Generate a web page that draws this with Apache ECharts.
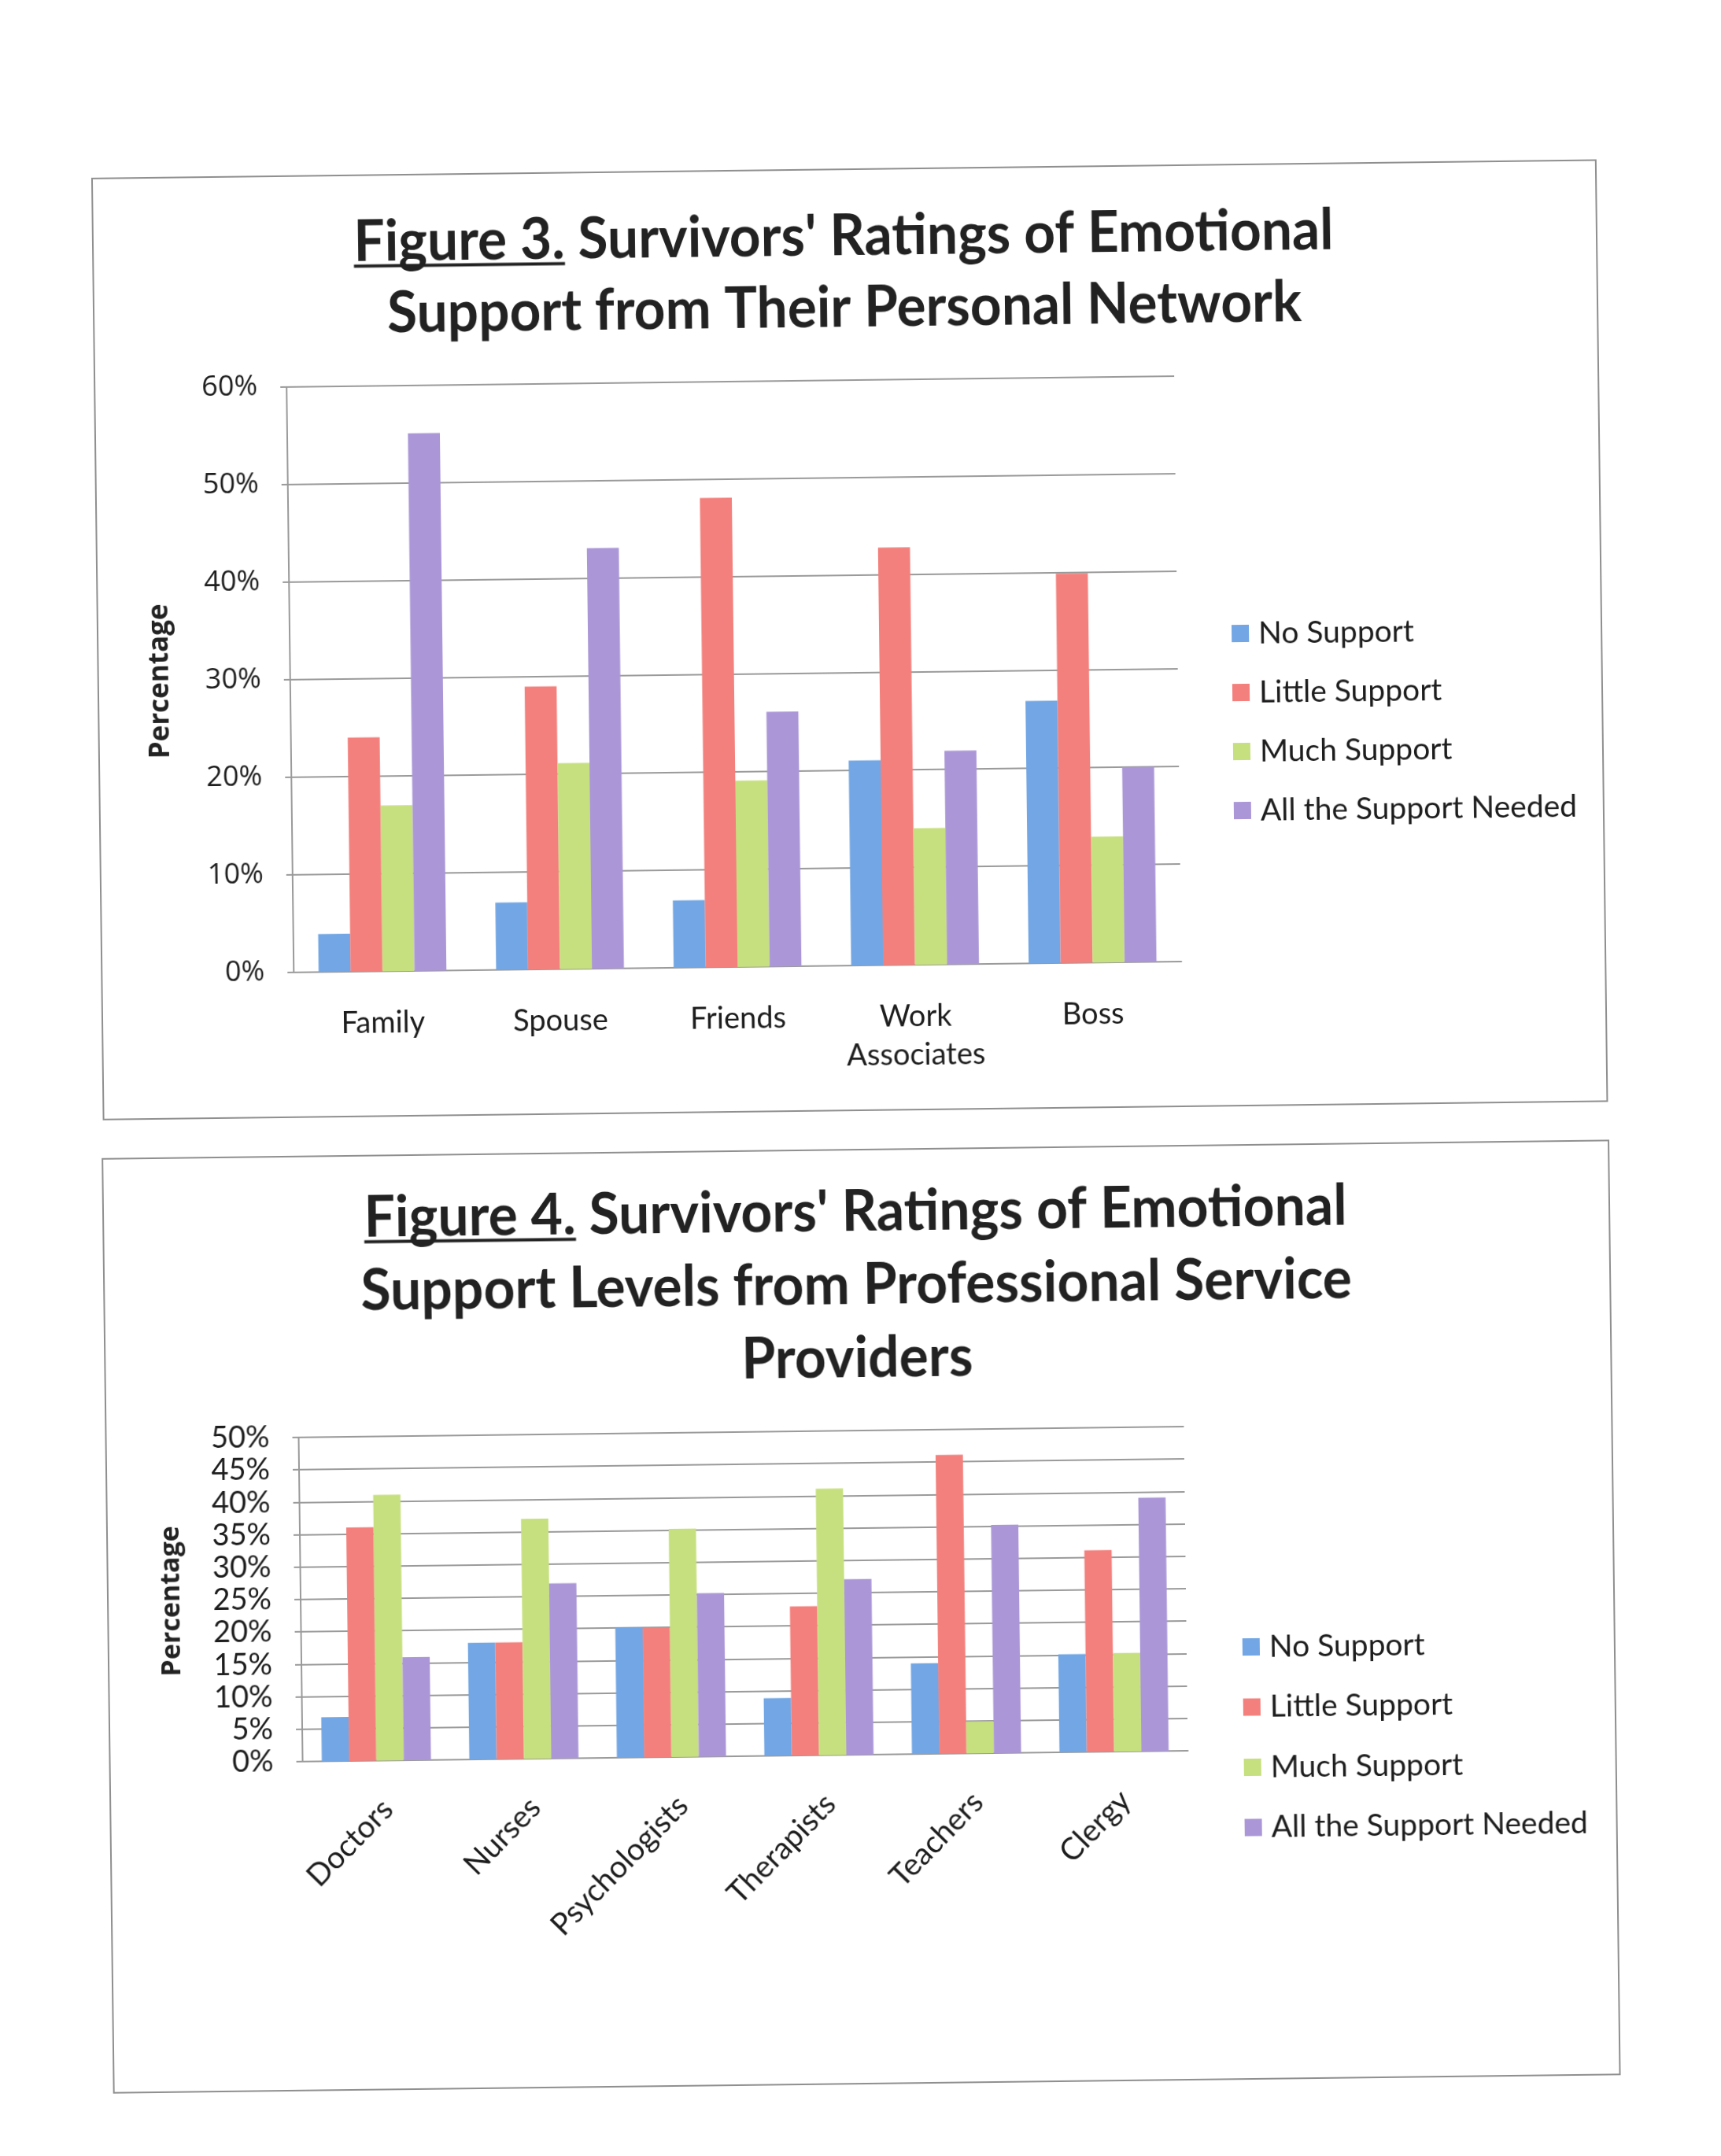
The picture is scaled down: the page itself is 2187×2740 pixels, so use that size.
<!DOCTYPE html>
<html>
<head>
<meta charset="utf-8">
<script src="https://cdn.jsdelivr.net/npm/echarts@6/dist/echarts.min.js"></script>
<style>
html,body{margin:0;padding:0;background:#fff;overflow:hidden;}
#c{width:2187px;height:2740px;transform:rotate(-0.7deg);transform-origin:50% 50%;}
</style>
</head>
<body>
<div id="c"></div>
<script>
// ---------- data ----------
const seriesNames = ['No Support', 'Little Support', 'Much Support', 'All the Support Needed'];

const fig3Categories = ['Family', 'Spouse', 'Friends', 'Work\nAssociates', 'Boss'];
const fig3NoSupport     = [3.9, 6.9, 6.9, 21.0, 26.9];
const fig3LittleSupport = [24.0, 29.0, 48.1, 42.8, 39.9];
const fig3MuchSupport   = [17.0, 21.1, 19.1, 14.0, 12.9];
const fig3AllNeeded     = [55.1, 43.1, 26.1, 21.9, 20.0];
const fig3AxisMax = 60, fig3AxisStep = 10;

const fig4Categories = ['Doctors', 'Nurses', 'Psychologists', 'Therapists', 'Teachers', 'Clergy'];
const fig4NoSupport     = [6.8, 18.0, 20.1, 8.9, 14.0, 15.1];
const fig4LittleSupport = [36.0, 18.0, 20.0, 23.0, 46.1, 31.1];
const fig4MuchSupport   = [41.0, 37.0, 35.2, 41.1, 4.9, 15.2];
const fig4AllNeeded     = [15.9, 27.0, 25.2, 27.1, 35.2, 39.1];
const fig4AxisMax = 50, fig4AxisStep = 5;

const fig3TitleLines = ["Figure 3. Survivors' Ratings of Emotional", "Support from Their Personal Network"];
const fig4TitleLines = ["Figure 4. Survivors' Ratings of Emotional", "Support Levels from Professional Service", "Providers"];
const fig3Prefix = 'Figure 3.';
const fig4Prefix = 'Figure 4.';
const yAxisName = 'Percentage';

// ---------- style ----------
const colors = ['#72A6E4', '#F3807C', '#C7E07F', '#AB97D7'];
const textColor = '#1d1d1d';
const gridColor = '#9a9a9a';
const titleFamily = 'Lato';
const titleSize = 73;

const ctx = document.createElement('canvas').getContext('2d');
function measure(text, size, weight, family) {
  ctx.font = weight + ' ' + size + 'px ' + family;
  return ctx.measureText(text).width;
}

function titleGraphics(lines, prefix, cx, top, lineH, targetW) {
  const w1 = measure(lines[0], titleSize, 'bold', titleFamily);
  const sx = targetW / w1;
  const els = [{
    type: 'text', x: cx, y: top, scaleX: sx,
    style: {
      text: lines.join('\n'), fontFamily: titleFamily, fontWeight: 'bold', fontSize: titleSize,
      lineHeight: lineH, align: 'center', verticalAlign: 'top', fill: '#222'
    }
  }];
  const wp = measure(prefix, titleSize, 'bold', titleFamily) * sx;
  const x0 = cx - targetW / 2;
  const baseY = top + lineH / 2 + 0.3 * titleSize + 8;
  els.push({
    type: 'line', shape: { x1: x0, y1: baseY, x2: x0 + wp, y2: baseY },
    style: { stroke: '#222', lineWidth: 4 }
  });
  return els;
}

const chart = echarts.init(document.getElementById('c'), null, { renderer: 'canvas' });

function barSeries(idx, arrays, barCatGap) {
  return arrays.map((arr, i) => ({
    name: seriesNames[i], type: 'bar', xAxisIndex: idx, yAxisIndex: idx,
    data: arr, barGap: '0%', barCategoryGap: barCatGap,
    itemStyle: { color: colors[i] }
  }));
}

function yAxis(idx, max, step, labelFont, labelSize, nameSize) {
  return {
    gridIndex: idx, type: 'value', min: 0, max: max, interval: step,
    axisLabel: { formatter: '{value}%', margin: 37, fontFamily: labelFont, fontSize: labelSize, color: textColor },
    axisLine: { show: true, lineStyle: { color: gridColor, width: 2 } },
    axisTick: { show: true, length: 8, lineStyle: { color: gridColor, width: 2 } },
    splitLine: { show: true, lineStyle: { color: gridColor, width: 2 } },
    name: yAxisName, nameLocation: 'middle', nameGap: 147,
    nameTextStyle: { fontFamily: 'Open Sans', fontWeight: 'bold', fontSize: nameSize, color: '#222' }
  };
}

const legendBase = {
  orient: 'vertical', padding: 0, itemWidth: 22, itemHeight: 22, icon: 'rect',
  textStyle: { fontFamily: 'Lato', fontSize: 39, lineHeight: 40, color: textColor, padding: [0, 0, 0, 7] },
  data: seriesNames
};

const option = {
  animation: false,
  backgroundColor: '#fff',
  graphic: [
    { type: 'rect', shape: { x: 131, y: 215, width: 1911, height: 1196 }, style: { fill: 'none', stroke: '#8f8f8f', lineWidth: 2 } },
    { type: 'rect', shape: { x: 129, y: 1461, width: 1914, height: 1187 }, style: { fill: 'none', stroke: '#8f8f8f', lineWidth: 2 } }
  ].concat(
    titleGraphics(fig3TitleLines, fig3Prefix, 1085, 255, 91, 1245),
    titleGraphics(fig4TitleLines, fig4Prefix, 1085, 1494, 93, 1249)
  ),
  legend: [
    Object.assign({}, legendBase, { left: 1572, top: 791, itemGap: 35 }),
    Object.assign({}, legendBase, { left: 1570, top: 2079, itemGap: 36.5 })
  ],
  grid: [
    { left: 375, top: 483, width: 1128, height: 744 },
    { left: 374, top: 1818, width: 1125, height: 412 }
  ],
  xAxis: [
    {
      gridIndex: 0, type: 'category', data: fig3Categories,
      axisLine: { lineStyle: { color: gridColor, width: 2 } }, axisTick: { show: false },
      axisLabel: { margin: 41, fontFamily: 'Lato', fontSize: 38, lineHeight: 49, color: textColor, interval: 0 }
    },
    {
      gridIndex: 1, type: 'category', data: fig4Categories,
      axisLine: { lineStyle: { color: gridColor, width: 2 } }, axisTick: { show: false },
      axisLabel: { margin: 42, rotate: 45, verticalAlign: 'top', fontFamily: 'Lato', fontSize: 39, color: textColor, interval: 0 }
    }
  ],
  yAxis: [
    yAxis(0, fig3AxisMax, fig3AxisStep, 'Open Sans', 36, 35),
    yAxis(1, fig4AxisMax, fig4AxisStep, 'Lato', 38, 34)
  ],
  series: [].concat(
    barSeries(0, [fig3NoSupport, fig3LittleSupport, fig3MuchSupport, fig3AllNeeded], '28%'),
    barSeries(1, [fig4NoSupport, fig4LittleSupport, fig4MuchSupport, fig4AllNeeded], '26%')
  )
};
chart.setOption(option);
</script>
</body>
</html>
